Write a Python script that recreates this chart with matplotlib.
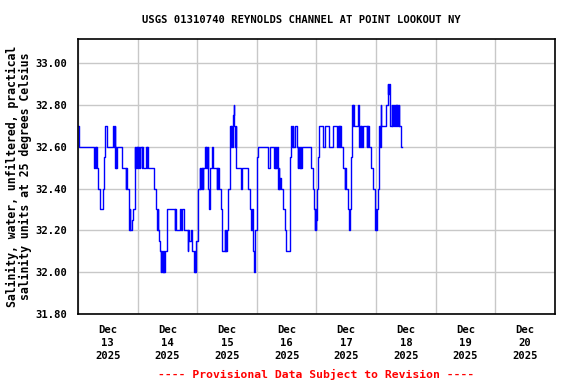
import numpy as np
import matplotlib
matplotlib.use("Agg")
from matplotlib import pyplot as plt
import matplotlib.dates as mdates
from datetime import datetime, timedelta

# hours after Dec 13 2025 00:00 where the reading changes, and the new reading
hours = [
    0.0, 0.4, 6.6, 6.85, 7.1, 7.3, 7.5, 8.2, 8.7, 9.0, 10.2, 10.6, 11.0, 11.8,
    14.2, 14.45, 14.7, 14.9, 15.0, 15.25, 15.45, 15.6, 17.9,
    19.3, 19.5, 19.75, 20.0, 20.4, 20.7, 20.9, 21.1, 21.7, 22.3, 22.8,
    23.1, 23.35, 23.6, 23.85, 24.1, 24.35, 24.6, 24.9,
    25.6, 25.85, 26.1, 27.4, 27.65, 27.9, 28.15,
    30.7, 31.5, 31.9, 32.1, 32.3, 32.5, 33.0,
    33.3, 33.55, 33.8, 34.05, 34.3, 34.55, 34.8, 35.05, 35.8,
    39.0, 39.25, 39.5, 40.9, 41.5, 41.75, 42.0, 42.8,
    44.2, 44.45, 44.7, 45.5, 46.0, 46.7, 46.95, 47.2, 47.4, 48.2,
    49.0, 49.25, 49.5, 49.75, 50.0, 50.25, 50.4,
    51.2, 51.45, 51.7, 51.95, 52.2, 52.5, 52.8, 53.0, 53.9, 54.4,
    55.8, 56.05, 56.3, 56.55, 56.8, 57.6, 58.1,
    59.0, 59.25, 59.5, 59.75, 60.0, 60.4,
    61.0, 61.25, 61.5, 61.75, 62.0, 62.25, 62.5, 62.75, 63.0, 63.25, 63.5,
    63.7, 65.5, 66.2, 68.5, 69.4, 69.8, 70.05, 70.3, 70.6, 70.85, 71.1,
    72.0, 72.5, 76.5, 77.1,
    78.9, 79.15, 79.4, 79.65, 79.9, 80.15, 80.4,
    80.6, 80.85, 81.1, 81.35, 81.6, 82.4, 83.2, 83.8, 85.4,
    85.9, 86.15, 86.4, 86.5, 87.5,
    88.2, 88.45, 88.7, 88.95, 89.2, 89.45, 89.7, 89.95, 90.2, 90.5,
    93.7, 94.8,
    95.0, 95.25, 95.5, 95.75, 96.0, 96.4, 96.7, 97.2, 98.8, 99.6, 101.2, 102.5,
    104.4, 104.65, 104.9, 105.15, 105.4, 105.65, 105.9, 106.6,
    107.4, 107.65, 107.9, 108.5, 109.0, 109.6, 109.9,
    110.3, 110.55, 110.8, 111.05, 111.3, 112.9, 113.15,
    113.3, 113.55, 113.8, 114.05, 114.3, 114.55,
    116.2, 116.45, 116.7, 116.95, 117.2, 118.1, 118.9,
    119.4, 119.65, 119.9, 120.15, 120.4, 120.8,
    121.1, 121.35, 121.6, 121.85, 122.0, 123.9,
    124.7, 124.95, 125.2, 125.45, 125.8,
    126.3, 126.55, 126.8, 127.1, 127.6, 127.85, 128.1, 128.35, 128.6, 128.85,
    129.1, 129.3, 130.0, 130.4,
]
salinity = [
    32.7, 32.6, 32.5, 32.6, 32.5, 32.6, 32.5, 32.4, 32.35, 32.3, 32.4, 32.55, 32.7, 32.6,
    32.7, 32.6, 32.7, 32.6, 32.5, 32.6, 32.5, 32.6, 32.5,
    32.4, 32.5, 32.4, 32.4, 32.3, 32.2, 32.3, 32.2, 32.25, 32.3, 32.6,
    32.5, 32.6, 32.5, 32.6, 32.5, 32.6, 32.5, 32.6,
    32.5, 32.6, 32.5, 32.6, 32.5, 32.6, 32.5,
    32.4, 32.3, 32.2, 32.3, 32.2, 32.15, 32.1,
    32.0, 32.1, 32.0, 32.1, 32.0, 32.1, 32.0, 32.1, 32.3,
    32.2, 32.3, 32.2, 32.3, 32.2, 32.3, 32.3, 32.2,
    32.1, 32.2, 32.15, 32.2, 32.1, 32.0, 32.1, 32.0, 32.15, 32.4,
    32.5, 32.4, 32.5, 32.4, 32.5, 32.4, 32.5,
    32.6, 32.5, 32.6, 32.5, 32.6, 32.4, 32.3, 32.5, 32.6, 32.5,
    32.4, 32.5, 32.4, 32.5, 32.4, 32.3, 32.1,
    32.2, 32.1, 32.2, 32.1, 32.2, 32.4,
    32.6, 32.7, 32.6, 32.7, 32.6, 32.7, 32.75, 32.8, 32.7, 32.6, 32.7,
    32.5, 32.4, 32.5, 32.4, 32.3, 32.2, 32.3, 32.2, 32.1, 32.0, 32.2,
    32.55, 32.6, 32.5, 32.6,
    32.5, 32.6, 32.5, 32.6, 32.5, 32.6, 32.5,
    32.4, 32.5, 32.4, 32.45, 32.4, 32.3, 32.2, 32.1, 32.55,
    32.7, 32.6, 32.7, 32.6, 32.7,
    32.6, 32.5, 32.6, 32.5, 32.6, 32.5, 32.6, 32.5, 32.6, 32.6,
    32.5, 32.4,
    32.3, 32.2, 32.3, 32.2, 32.25, 32.4, 32.55, 32.7, 32.6, 32.7, 32.6, 32.7,
    32.6, 32.7, 32.6, 32.7, 32.6, 32.7, 32.6, 32.5,
    32.4, 32.5, 32.4, 32.3, 32.2, 32.3, 32.55,
    32.8, 32.7, 32.8, 32.7, 32.7, 32.8, 32.7,
    32.6, 32.7, 32.6, 32.7, 32.6, 32.7,
    32.6, 32.7, 32.6, 32.7, 32.6, 32.5, 32.4,
    32.3, 32.2, 32.3, 32.2, 32.3, 32.4,
    32.6, 32.7, 32.6, 32.8, 32.7, 32.8,
    32.9, 32.85, 32.9, 32.8, 32.7,
    32.8, 32.7, 32.8, 32.7, 32.8, 32.7, 32.8, 32.7, 32.8, 32.7,
    32.8, 32.7, 32.6, 32.6,
]

y_ticks = [31.8, 32.0, 32.2, 32.4, 32.6, 32.8, 33.0]
day_labels = ["Dec\n13\n2025", "Dec\n14\n2025", "Dec\n15\n2025", "Dec\n16\n2025",
              "Dec\n17\n2025", "Dec\n18\n2025", "Dec\n19\n2025", "Dec\n20\n2025"]

start = datetime(2025, 12, 13)
times = [start + timedelta(hours=h) for h in hours]

plt.rcParams['font.family'] = ['DejaVu Sans Mono']
plt.rcParams['font.weight'] = 'bold'

fig = plt.figure(figsize=(5.76, 3.84), dpi=100)
ax = fig.add_axes([0.1354, 0.1823, 0.828, 0.7161])

ax.plot(times, salinity, color='#0000ff', lw=1.0, drawstyle='steps-post')

ax.set_xlim(start, start + timedelta(days=8))
ax.set_ylim(31.8, 33.115)

ax.set_yticks(y_ticks)
ax.set_yticklabels([f"{v:.2f}" for v in y_ticks], fontsize=7.6, fontweight='bold')

days = [start + timedelta(days=i) for i in range(9)]
ax.set_xticks(days)
ax.set_xticklabels([])
noon = [start + timedelta(days=i, hours=12) for i in range(8)]
ax.set_xticks(noon, minor=True)
ax.set_xticklabels(day_labels, minor=True, fontsize=7.6, fontweight='bold',
                   linespacing=1.35)
ax.tick_params(axis='x', which='both', length=0, pad=8)
ax.tick_params(axis='y', length=0, pad=8)

ax.grid(True, which='major', color='#c8c8c8', lw=1)
ax.set_axisbelow(True)
for s in ax.spines.values():
    s.set_linewidth(1.2)

ax.set_ylabel("Salinity, water, unfiltered, practical\nsalinity units at 25 degrees Celsius",
              fontsize=8.3, fontweight='bold', labelpad=2, linespacing=1.0)
fig.text(0.523, 0.948, "USGS 01310740 REYNOLDS CHANNEL AT POINT LOOKOUT NY",
         fontsize=7.6, fontweight='bold', ha='center', va='center')
fig.text(0.548, 0.024, "---- Provisional Data Subject to Revision ----",
         color='red', fontsize=8.2, fontweight='bold', ha='center', va='center')

fig.savefig('out.png', dpi=100)
